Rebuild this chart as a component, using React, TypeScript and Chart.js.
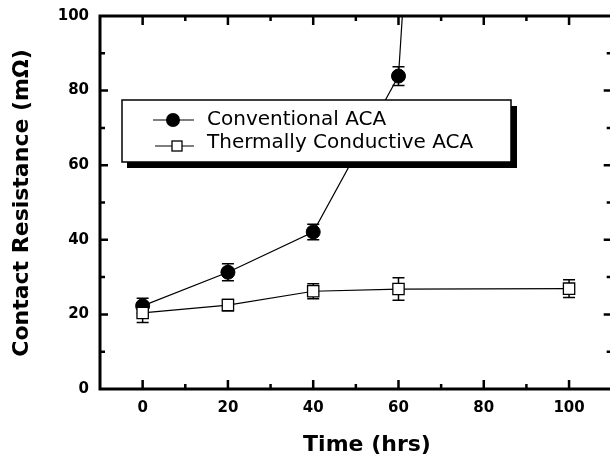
import React, { useEffect, useRef } from "react";
import { Chart, registerables } from "chart.js";

Chart.register(...registerables);

// ---- data ----
const hours = [0, 20, 40, 60, 100];
const conventional = [22.3, 31.3, 42.1, 83.9, 800];
const conventionalErr = [2.0, 2.3, 2.1, 2.5, 0];
const thermal = [20.4, 22.5, 26.2, 26.8, 26.9];
const thermalErr = [2.6, 1.5, 2.0, 3.0, 2.4];
const xTickValues = [0, 20, 40, 60, 80, 100];
const yTickValues = [0, 20, 40, 60, 80, 100];
const seriesNames = ["Conventional ACA", "Thermally Conductive ACA"];
const xTitle = "Time (hrs)";
const yTitle = "Contact Resistance (mΩ)";

const FONT = "'DejaVu Sans', 'Liberation Sans', Arial, sans-serif";

const errorBarPlugin = {
  id: "errorBars",
  beforeDatasetsDraw(chart: any) {
    const { ctx, chartArea, scales } = chart;
    const y = scales.y;
    ctx.save();
    ctx.beginPath();
    ctx.rect(chartArea.left, chartArea.top, chartArea.right - chartArea.left, chartArea.bottom - chartArea.top);
    ctx.clip();
    ctx.strokeStyle = "#000";
    ctx.lineWidth = 1.5;
    chart.data.datasets.forEach((ds: any, di: number) => {
      const meta = chart.getDatasetMeta(di);
      const errs: number[] = ds.errors || [];
      meta.data.forEach((pt: any, i: number) => {
        const e = errs[i];
        if (!e) return;
        const v = ds.data[i].y;
        const px = pt.x;
        const y1 = y.getPixelForValue(v + e);
        const y2 = y.getPixelForValue(v - e);
        ctx.beginPath();
        ctx.moveTo(px, y1);
        ctx.lineTo(px, y2);
        ctx.moveTo(px - 6, y1);
        ctx.lineTo(px + 6, y1);
        ctx.moveTo(px - 6, y2);
        ctx.lineTo(px + 6, y2);
        ctx.stroke();
      });
    });
    ctx.restore();
  },
};

const legendPlugin = {
  id: "boxLegend",
  afterDatasetsDraw(chart: any) {
    const { ctx } = chart;
    ctx.save();
    // shadow
    ctx.fillStyle = "#000";
    ctx.fillRect(127, 106, 390, 62);
    // box
    ctx.fillStyle = "#fff";
    ctx.fillRect(122, 100, 389, 62);
    ctx.strokeStyle = "#000";
    ctx.lineWidth = 1.5;
    ctx.strokeRect(122, 100, 389, 62);

    ctx.lineWidth = 1.2;
    // row 1
    ctx.beginPath();
    ctx.moveTo(153, 120);
    ctx.lineTo(194, 120);
    ctx.stroke();
    ctx.beginPath();
    ctx.arc(173, 120, 7, 0, Math.PI * 2);
    ctx.fillStyle = "#000";
    ctx.fill();
    // row 2
    ctx.beginPath();
    ctx.moveTo(155, 146);
    ctx.lineTo(194, 146);
    ctx.stroke();
    ctx.fillStyle = "#fff";
    ctx.fillRect(172, 141, 10, 10);
    ctx.lineWidth = 1.3;
    ctx.strokeRect(172, 141, 10, 10);

    ctx.fillStyle = "#000";
    ctx.font = `20px ${FONT}`;
    ctx.textAlign = "left";
    ctx.textBaseline = "middle";
    ctx.fillText(seriesNames[0], 207, 120);
    ctx.fillText(seriesNames[1], 207, 143);
    ctx.restore();
  },
};

const framePlugin = {
  id: "frame",
  afterDraw(chart: any) {
    const { ctx, chartArea, scales } = chart;
    const { left, right, top, bottom } = chartArea;
    const x = scales.x;
    const y = scales.y;
    ctx.save();
    ctx.strokeStyle = "#000";
    ctx.lineWidth = 3;
    ctx.strokeRect(left, top, right - left, bottom - top);
    ctx.lineWidth = 2.5;
    ctx.beginPath();
    for (let v = 0; v <= 100; v += 10) {
      const px = x.getPixelForValue(v);
      const major = v % 20 === 0;
      ctx.moveTo(px, bottom);
      ctx.lineTo(px, bottom - (major ? 9 : 5));
      ctx.moveTo(px, top);
      ctx.lineTo(px, top + (major ? 9 : 5));
    }
    for (let v = 10; v < 100; v += 10) {
      const py = y.getPixelForValue(v);
      const major = v % 20 === 0;
      ctx.moveTo(left, py);
      ctx.lineTo(left + (major ? 8 : 5), py);
      ctx.moveTo(right, py);
      ctx.lineTo(right - (major ? 8 : 5), py);
    }
    ctx.stroke();

    // axis titles
    ctx.fillStyle = "#000";
    ctx.font = `bold 22px ${FONT}`;
    ctx.textAlign = "center";
    ctx.textBaseline = "middle";
    ctx.fillText(xTitle, 367, 445);
    ctx.translate(22, 203);
    ctx.rotate(-Math.PI / 2);
    ctx.fillText(yTitle, 0, 0);
    ctx.restore();
  },
};

export default function App() {
  const ref = useRef<HTMLCanvasElement | null>(null);

  useEffect(() => {
    if (!ref.current) return;
    const chart = new Chart(ref.current, {
      type: "line",
      data: {
        datasets: [
          {
            label: seriesNames[0],
            data: hours.map((h, i) => ({ x: h, y: conventional[i] })),
            errors: conventionalErr,
            borderColor: "#000",
            borderWidth: 1.2,
            pointStyle: "circle",
            pointRadius: 7,
            pointBackgroundColor: "#000",
            pointBorderColor: "#000",
            pointBorderWidth: 1,
            tension: 0,
            order: 1,
          } as any,
          {
            label: seriesNames[1],
            data: hours.map((h, i) => ({ x: h, y: thermal[i] })),
            errors: thermalErr,
            borderColor: "#000",
            borderWidth: 1.2,
            pointStyle: "rect",
            pointRadius: 8,
            pointBackgroundColor: "#fff",
            pointBorderColor: "#000",
            pointBorderWidth: 1.3,
            tension: 0,
            order: 0,
          } as any,
        ],
      },
      options: {
        responsive: false,
        animation: false,
        events: [],
        layout: { padding: { top: 16, right: 3, left: 0, bottom: 0 } },
        plugins: {
          legend: { display: false },
          tooltip: { enabled: false },
          title: { display: false },
        },
        scales: {
          x: {
            type: "linear",
            min: -10,
            max: 110,
            grid: { display: false, drawTicks: false },
            border: { display: false },
            afterBuildTicks: (s: any) => {
              s.ticks = xTickValues.map((v) => ({ value: v }));
            },
            afterFit: (s: any) => {
              s.height = 71;
              s.paddingLeft = 0;
              s.paddingRight = 0;
            },
            ticks: {
              padding: 10,
              color: "#000",
              font: { family: FONT, size: 15, weight: "bold" },
              maxRotation: 0,
              autoSkip: false,
            },
          },
          y: {
            type: "linear",
            min: 0,
            max: 100,
            grid: { display: false, drawTicks: false },
            border: { display: false },
            afterBuildTicks: (s: any) => {
              s.ticks = yTickValues.map((v) => ({ value: v }));
            },
            afterFit: (s: any) => {
              s.width = 100;
              s.paddingTop = 0;
              s.paddingBottom = 0;
            },
            ticks: {
              padding: 11,
              color: "#000",
              font: { family: FONT, size: 15, weight: "bold" },
              autoSkip: false,
            },
          },
        },
      },
      plugins: [errorBarPlugin, legendPlugin, framePlugin],
    } as any);
    return () => chart.destroy();
  }, []);

  return (
    <div
      style={{
        position: "fixed",
        left: 0,
        top: 0,
        width: 610,
        height: 460,
        overflow: "hidden",
        background: "#fff",
      }}
    >
      <canvas ref={ref} width={621} height={460} style={{ display: "block", width: 621, height: 460 }} />
    </div>
  );
}
